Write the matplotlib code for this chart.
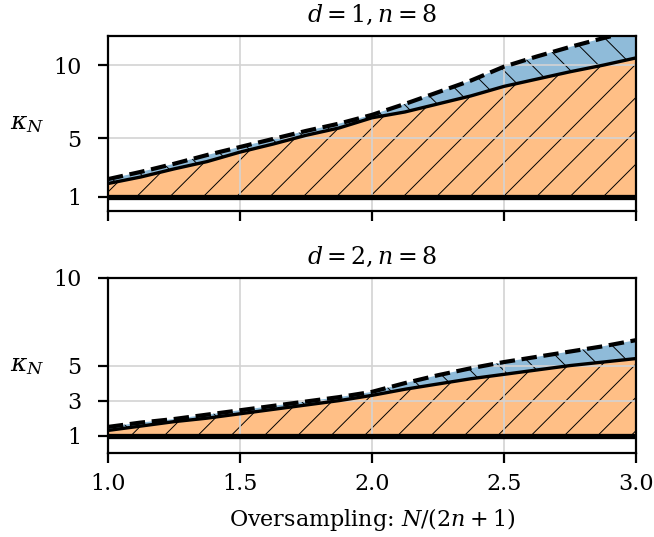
import matplotlib
matplotlib.use("Agg")
import matplotlib.pyplot as plt
import numpy as np

# oversampling factor N/(2n+1)
oversampling = [1.0, 1.125, 1.25, 1.375, 1.5, 1.625, 1.75, 1.875, 2.0,
                2.125, 2.25, 2.375, 2.5, 2.625, 2.75, 2.875, 3.0]

# d = 1, n = 8
kappa_d1_lower = [1.9, 2.35, 2.9, 3.4, 4.05, 4.6, 5.2, 5.7, 6.4,
                  6.8, 7.35, 7.9, 8.55, 9.05, 9.55, 10.0, 10.5]
kappa_d1_upper = [2.2, 2.7, 3.25, 3.85, 4.4, 4.95, 5.5, 6.0, 6.6,
                  7.35, 8.15, 8.95, 9.9, 10.6, 11.25, 11.85, 12.4]

# d = 2, n = 8
kappa_d2_lower = [1.3, 1.55, 1.8, 2.0, 2.25, 2.5, 2.75, 3.0, 3.3,
                  3.65, 3.95, 4.25, 4.5, 4.75, 5.0, 5.2, 5.4]
kappa_d2_upper = [1.5, 1.75, 1.95, 2.2, 2.45, 2.7, 2.95, 3.2, 3.5,
                  4.0, 4.45, 4.85, 5.2, 5.5, 5.8, 6.1, 6.45]

panels = [
    ("$d = 1, n = 8$", kappa_d1_lower, kappa_d1_upper, (0, 12), [1, 5, 10]),
    ("$d = 2, n = 8$", kappa_d2_lower, kappa_d2_upper, (0, 10), [1, 3, 5, 10]),
]

plt.rcParams["font.family"] = ["DejaVu Serif"]
plt.rcParams["mathtext.fontset"] = "dejavuserif"
plt.rcParams["font.size"] = 8
plt.rcParams["hatch.linewidth"] = 0.35
plt.rcParams["axes.linewidth"] = 0.8
plt.rcParams["ytick.major.pad"] = 6

fig, axes = plt.subplots(2, 1, figsize=(3.27, 2.685), dpi=200, sharex=True)
fig.subplots_adjust(left=0.165, right=0.9725, top=0.933, bottom=0.156, hspace=0.38)

x = np.array(oversampling)
for ax, (title, lower, upper, ylim, yticks) in zip(axes, panels):
    lower = np.array(lower)
    upper = np.array(upper)
    ax.fill_between(x, 1, lower, facecolor="#ffbf86", hatch="//",
                    edgecolor="black", linewidth=0, zorder=0.3)
    ax.fill_between(x, lower, upper, facecolor="#8fbbd9", hatch="\\\\",
                    edgecolor="black", linewidth=0, zorder=0.3)
    ax.plot(x, lower, color="black", lw=1.2)
    ax.plot(x, upper, color="black", lw=1.5, ls="--")
    ax.axhline(1, color="black", lw=1.9)
    ax.set_xlim(1, 3)
    ax.set_ylim(*ylim)
    ax.set_yticks(yticks)
    ax.set_xticks([1.0, 1.5, 2.0, 2.5, 3.0])
    ax.grid(True, color="lightgray", lw=0.6)
    ax.set_axisbelow(True)
    ax.set_title(title, fontsize=8.5, pad=5)
    ax.set_ylabel(r"$\kappa_N$", fontsize=9, rotation=0, labelpad=3,
                  ha="right", va="center")

axes[1].set_xlabel("Oversampling: $N/(2n+1)$", labelpad=4)

fig.savefig("out.png", dpi=200)
